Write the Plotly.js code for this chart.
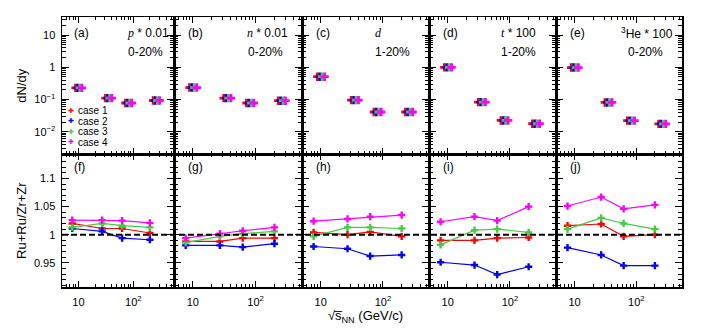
<!DOCTYPE html>
<html><head><meta charset="utf-8">
<script src="https://cdn.plot.ly/plotly-3.0.1.min.js"></script>
<style>html,body{margin:0;padding:0;background:#fff}#chart{width:709px;height:330px}</style>
</head><body><div id="chart"></div>
<script>
// ---- data ----
const energies = [7.7, 27, 62.4, 200];
const cases = ['case 1', 'case 2', 'case 3', 'case 4'];
const caseColors = ['#ff0000', '#0000ff', '#44cc44', '#ff00ff'];
const topTags = ['(a)', '(b)', '(c)', '(d)', '(e)'];
const bottomTags = ['(f)', '(g)', '(h)', '(i)', '(j)'];
const particleLabels = [
  '<span style="font-family:Liberation Serif;font-style:italic">p</span> * 0.01',
  '<span style="font-family:Liberation Serif;font-style:italic">n</span> * 0.01',
  '<span style="font-family:Liberation Serif;font-style:italic">d</span>',
  '<span style="font-family:Liberation Serif;font-style:italic">t</span> * 100',
  '<sup>3</sup>He * 100'
];
const centralities = ['0-20%', '0-20%', '1-20%', '1-20%', '0-20%'];

// dN/dy (scaled) read from the top row
const yieldP  = [0.23, 0.11, 0.078, 0.093];
const yieldN  = [0.235, 0.11, 0.078, 0.092];
const yieldD  = [0.51, 0.096, 0.041, 0.041];
const yieldT  = [0.99, 0.083, 0.0224, 0.0177];
const yieldHe = [0.98, 0.081, 0.0222, 0.0175];

// Ru+Ru / Zr+Zr ratios, rows = case 1..4
const ratioP  = [[1.020, 1.011, 1.011, 1.003], [1.011, 1.006, 0.994, 0.991], [1.013, 1.020, 1.016, 1.013], [1.026, 1.026, 1.025, 1.021]];
const ratioN  = [[0.988, 0.988, 0.994, 0.994], [0.981, 0.981, 0.978, 0.984], [0.986, 0.997, 1.002, 1.006], [0.994, 1.002, 1.007, 1.013]];
const ratioD  = [[1.004, 1.000, 1.005, 0.997], [0.979, 0.975, 0.962, 0.964], [0.997, 1.013, 1.013, 1.011], [1.024, 1.028, 1.032, 1.035]];
const ratioT  = [[0.990, 0.990, 0.994, 0.995], [0.951, 0.946, 0.929, 0.943], [0.982, 1.008, 1.010, 1.004], [1.023, 1.032, 1.025, 1.050]];
const ratioHe = [[1.016, 1.019, 0.997, 1.000], [0.977, 0.964, 0.945, 0.945], [1.010, 1.030, 1.020, 1.010], [1.051, 1.067, 1.046, 1.053]];

const yieldsAll = [yieldP, yieldN, yieldD, yieldT, yieldHe];
const ratiosAll = [ratioP, ratioN, ratioD, ratioT, ratioHe];

// ---- layout helpers ----
const W = 709, H = 330, ML = 62, MR = 27, MT = 17, MB = 43;
const PW = W - ML - MR, PH = H - MT - MB;
const panelEdges = [62, 174, 302, 429, 556, 682];
const midY = 154.3;
const px2x = p => (p - ML) / PW;
const px2y = p => (H - MB - p) / PH;
const caseShift = [1.15, 1.26, 1.37, 1.5];   // horizontal display offset (top row)
const FONT = 'Liberation Sans, Arial, sans-serif';

const xMinor = [6, 7, 8, 9, 20, 30, 40, 50, 60, 70, 80, 90, 200, 300, 400, 500];
const yMinorTop = [];
[0.001, 0.01, 0.1, 1, 10].forEach(d => { for (let k = 2; k <= 9; k++) yMinorTop.push(k * d); });

const traces = [];
const layout = {
  width: W, height: H,
  margin: {l: ML, r: MR, t: MT, b: MB},
  paper_bgcolor: '#fff', plot_bgcolor: '#fff',
  showlegend: false,
  font: {family: FONT, size: 11, color: '#000'},
  hovermode: false,
  annotations: [],
  shapes: []
};

const topDom = [px2y(midY), 1], botDom = [0, px2y(midY)];

for (let i = 0; i < 5; i++) {
  const dom = [px2x(panelEdges[i]), px2x(panelEdges[i + 1])];
  const t = i + 1, b = i + 6;
  const common = {
    showline: true, linecolor: '#000', linewidth: 1.5, mirror: 'allticks',
    ticks: 'inside', tickcolor: '#000', tickwidth: 1, showgrid: false, zeroline: false,
    fixedrange: true
  };
  const xCommon = Object.assign({}, common, {
    type: 'log', range: [0.7, 2.74], domain: dom,
    tickmode: 'array', tickvals: [10, 100], ticktext: ['10', '10<sup>2</sup>'], ticklen: 6,
    minor: {ticks: 'inside', tickmode: 'array', tickvals: xMinor, ticklen: 3, tickcolor: '#000', showgrid: false},
    tickfont: {family: FONT, size: 11}, ticklabelstandoff: 4
  });
  layout['xaxis' + t] = Object.assign({}, xCommon, {anchor: 'y' + t, showticklabels: false});
  layout['xaxis' + b] = Object.assign({}, xCommon, {anchor: 'y' + b, showticklabels: true});
  layout['yaxis' + t] = Object.assign({}, common, {
    type: 'log', range: [-2.7, 1.56], domain: topDom, anchor: 'x' + t,
    tickmode: 'array', tickvals: [0.01, 0.1, 1, 10], ticktext: ['10<sup>\u22122</sup>', '10<sup>\u22121</sup>', '1', '10'],
    ticklen: 7,
    minor: {ticks: 'inside', tickmode: 'array', tickvals: yMinorTop, ticklen: 4, tickcolor: '#000', showgrid: false},
    showticklabels: i === 0, tickfont: {family: FONT, size: 11}, ticklabelstandoff: 3
  });
  layout['yaxis' + b] = Object.assign({}, common, {
    range: [0.907, 1.143], domain: botDom, anchor: 'x' + b,
    tickmode: 'array', tickvals: [0.95, 1, 1.05, 1.1], ticktext: ['0.95', '1', '1.05', '1.1'],
    ticklen: 7,
    minor: {ticks: 'inside', dtick: 0.01, tick0: 0.9, ticklen: 4, tickcolor: '#000', showgrid: false},
    showticklabels: i === 0, tickfont: {family: FONT, size: 11}, ticklabelstandoff: 3
  });

  for (let c = 0; c < 4; c++) {
    traces.push({
      type: 'scatter', mode: 'markers', xaxis: 'x' + t, yaxis: 'y' + t,
      name: cases[c], legendgroup: cases[c], showlegend: false,
      x: energies.map(e => e * caseShift[c]), y: yieldsAll[i],
      marker: {symbol: 'cross', size: 7, color: caseColors[c], line: {width: 0}},
      cliponaxis: false
    });
  }
  for (let c = 0; c < 4; c++) {
    traces.push({
      type: 'scatter', mode: 'lines+markers', xaxis: 'x' + b, yaxis: 'y' + b,
      name: cases[c], legendgroup: cases[c], showlegend: false,
      x: energies, y: ratiosAll[i][c],
      line: {color: caseColors[c], width: 1.2},
      marker: {symbol: 'cross', size: 6, color: caseColors[c], line: {width: 0}}
    });
  }

  const left = panelEdges[i];
  layout.annotations.push({xref: 'paper', yref: 'paper', x: px2x(left + (i === 0 ? 10 : 12)), y: px2y(33),
    xanchor: 'left', yanchor: 'middle', text: topTags[i], showarrow: false, font: {family: FONT, size: 12}});
  layout.annotations.push({xref: 'paper', yref: 'paper', x: px2x(left + (i === 0 ? 10 : 12)), y: px2y(167),
    xanchor: 'left', yanchor: 'middle', text: bottomTags[i], showarrow: false, font: {family: FONT, size: 12}});
  const pOff = [63, 71, 71, 70, 63][i];
  const cOff = [64, 72, 71, 70, 70][i];
  layout.annotations.push({xref: 'paper', yref: 'paper', x: px2x(left + pOff), y: px2y(33),
    xanchor: 'left', yanchor: 'middle', text: particleLabels[i], showarrow: false, font: {family: FONT, size: 12}});
  layout.annotations.push({xref: 'paper', yref: 'paper', x: px2x(left + cOff), y: px2y(52),
    xanchor: 'left', yanchor: 'middle', text: centralities[i], showarrow: false, font: {family: FONT, size: 12}});
}

// axis titles
layout.yaxis1.title = {text: 'dN/dy', font: {family: FONT, size: 13}, standoff: 4};
layout.yaxis6.title = {text: 'Ru+Ru/Zr+Zr', font: {family: FONT, size: 13}, standoff: 4};
layout.xaxis8.title = {text: '\u221As\u0305<sub>NN</sub> (GeV/c)', font: {family: FONT, size: 13}, standoff: 4};

// dashed unity line across the bottom row
layout.shapes.push({type: 'line', xref: 'paper', x0: 0, x1: 1, yref: 'y6', y0: 1, y1: 1,
  line: {color: '#000', width: 2, dash: '6px,3px'}, layer: 'above'});

// legend (inside panel a)
const legY = [110.5, 121, 131.5, 142];
for (let c = 0; c < 4; c++) {
  layout.annotations.push({xref: 'paper', yref: 'paper', x: px2x(70.5), y: px2y(legY[c]),
    xanchor: 'center', yanchor: 'middle', text: '\u271A', showarrow: false,
    font: {family: 'DejaVu Sans', size: 7, color: caseColors[c]}});
  layout.annotations.push({xref: 'paper', yref: 'paper', x: px2x(76), y: px2y(legY[c]),
    xanchor: 'left', yanchor: 'middle', text: cases[c], showarrow: false,
    font: {family: FONT, size: 10}});
}

Plotly.newPlot('chart', traces, layout, {staticPlot: true, displayModeBar: false});
</script>
</body></html>
